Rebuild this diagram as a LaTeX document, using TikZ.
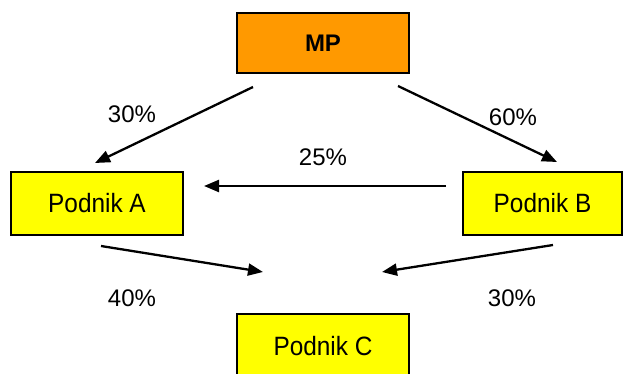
\documentclass[tikz,border=0pt]{standalone}
\usepackage{fontspec}
\setmainfont{Liberation Sans}
\newfontfamily\boxfont{Liberation Sans}[FakeStretch=0.92]
\usetikzlibrary{arrows.meta}
\definecolor{mporange}{HTML}{FF9900}
\definecolor{boxyellow}{HTML}{FFFF00}
\begin{document}
\begin{tikzpicture}[x=1pt,y=-1pt,
  box/.style={draw=black,line width=2.7pt,minimum width=170pt,minimum height=61pt,inner sep=0pt,font=\boxfont\fontsize{26.5}{30}\selectfont},
  lbl/.style={font=\fontsize{24}{28}\selectfont,inner sep=0pt},
  arr/.style={line width=2.3pt,-{Triangle[length=15pt,width=12pt]}}]
\useasboundingbox (0,0) rectangle (623,374);
\begin{scope}
\clip (0,0) rectangle (623,374);
\node[box,fill=mporange,minimum width=172pt,minimum height=60pt,font=\fontsize{24}{28}\selectfont\bfseries] (mp) at (323,43) {MP};
\node[box,fill=boxyellow,minimum width=172pt,minimum height=63pt] (a) at (97,203.5) {Podnik A};
\node[box,fill=boxyellow,minimum width=159pt,minimum height=63pt] (b) at (542.5,203.5) {Podnik B};
\node[box,fill=boxyellow,minimum width=172pt,minimum height=64pt] (c) at (323,346) {};
\end{scope}
\node[lbl,font=\boxfont\fontsize{26.5}{30}\selectfont] (ctext) at (323,346) {Podnik C};
% arrow end points
\coordinate (s1) at (253,87);  \coordinate (t1) at (95,163);
\coordinate (s2) at (398,86);  \coordinate (t2) at (557,162);
\coordinate (s3) at (446,186); \coordinate (t3) at (204,186);
\coordinate (s4) at (101,246); \coordinate (t4) at (263,272);
\coordinate (s5) at (553,245); \coordinate (t5) at (382,272);
\draw[arr] (s1) -- (t1);
\draw[arr] (s2) -- (t2);
\draw[arr] (s3) -- (t3);
\draw[arr] (s4) -- (t4);
\draw[arr] (s5) -- (t5);
\node[lbl] (l1) at (132,114) {30\%};
\node[lbl] (l2) at (513,117) {60\%};
\node[lbl] (l3) at (323,157) {25\%};
\node[lbl] (l4) at (132,298) {40\%};
\node[lbl] (l5) at (512,298) {30\%};
\end{tikzpicture}
\end{document}
